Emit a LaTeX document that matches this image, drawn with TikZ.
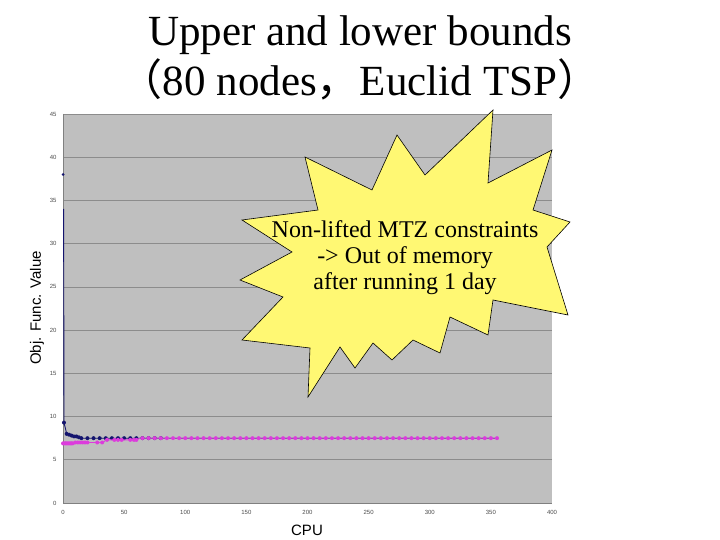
\documentclass[tikz,border=0pt]{standalone}
\usepackage{fontspec}
\setmainfont{Liberation Serif}
\setsansfont{Liberation Sans}
\newfontfamily\cjk{Noto Sans CJK JP}
\definecolor{ubc}{RGB}{20,20,110}
\definecolor{lbc}{RGB}{220,60,220}
\begin{document}
\begin{tikzpicture}[x=1pt,y=-1pt,
  tick/.style={font=\sffamily\fontsize{6}{7}\selectfont,text=black!70},
  ub/.style={draw=ubc,line width=0.9pt},
  lb/.style={draw=lbc,line width=0.9pt},
  ubm/.style={fill=ubc},
  lbm/.style={fill=lbc}]
\useasboundingbox (0,0) rectangle (720,540);
\fill[white] (0,0) rectangle (720,540);
\node[font=\fontsize{43}{50}\selectfont,align=center] (title) at (360,58) {Upper and lower bounds\\{\cjk （}80 nodes{\cjk ，}Euclid TSP{\cjk ）}};
% plot area
\fill[black!25] (63,114) rectangle (552,503);
\foreach \v in {5,10,...,45}{
  \draw[black!45,line width=0.8pt] (63,{503-8.644*\v}) -- (552,{503-8.644*\v});}
\draw[black!50] (63,114) -- (63,503) -- (552,503);
\foreach \v in {0,5,...,45}{
  \node[tick,anchor=east] (yt\v) at (60,{503-8.644*\v}) {\v};}
\foreach \v in {0,50,...,400}{
  \node[tick,anchor=north] (xt\v) at ({63+1.2225*\v},507) {\v};}
\node[font=\sffamily\fontsize{15}{16}\selectfont,rotate=90] (ylab) at (37,308) {Obj. Func. Value};
\node[font=\sffamily\fontsize{15}{16}\selectfont] (xlab) at (307,530) {CPU};
% data
\draw[ub] (63.6,209) -- (64,422.6) -- (66.7,433.8) -- (70.3,434.7) -- (75.2,436.4) -- (81.3,438.2) -- (497,438.2);
\fill[ubm] (63,174.5) circle (1.5pt);
\foreach \x/\y in {0.8/9.3,3/8,5/7.9,7/7.8,9/7.7,11/7.7,13/7.6,15/7.5}{\fill[ubm] ({63+1.2225*\x},{503-8.644*\y}) circle (2pt);}
\foreach \x in {20,25,...,80}{\fill[ubm] ({63+1.2225*\x},{503-8.644*7.5}) circle (2pt);}
\draw[lb] (63,443.4) -- (72.8,443.4) -- (75.2,442.5) -- (103.3,442.5) -- (105.8,439.9) -- (136.4,439.9) -- (140,438.2) -- (497,438.2);
\foreach \x in {0,1,...,8}{\fill[lbm] ({63+1.2225*\x},{503-8.644*6.9}) circle (2pt);}
\foreach \x in {10,12,...,20,28,32}{\fill[lbm] ({63+1.2225*\x},{503-8.644*7.0}) circle (2pt);}
\foreach \x in {36,42,45,48,55,58,60}{\fill[lbm] ({63+1.2225*\x},{503-8.644*7.3}) circle (2pt);}
\foreach \x in {65,70,...,355}{\fill[lbm] ({63+1.2225*\x},{503-8.644*7.5}) circle (2pt);}
% starburst
\draw[fill=yellow!55,draw=black,line width=0.6pt]
 (493,110) -- (488,183) -- (552,150) -- (533,210) -- (570,222) -- (547,247) -- (568,315)
 -- (493,300) -- (488,335) -- (450,317) -- (440,353) -- (413,340) -- (392,360) -- (373,343)
 -- (355,368) -- (340,347) -- (308,397) -- (310,348) -- (242,340) -- (283,297) -- (240,280)
 -- (292,252) -- (242,220) -- (318,210) -- (305,157) -- (372,190) -- (397,135) -- (425,175) -- cycle;
\node[font=\fontsize{24}{24}\selectfont,align=center] (note) at (405,258)
 {Non-lifted MTZ constraints\\[2pt]-> Out of memory\\[2pt]after running 1 day};
\end{tikzpicture}
\end{document}
